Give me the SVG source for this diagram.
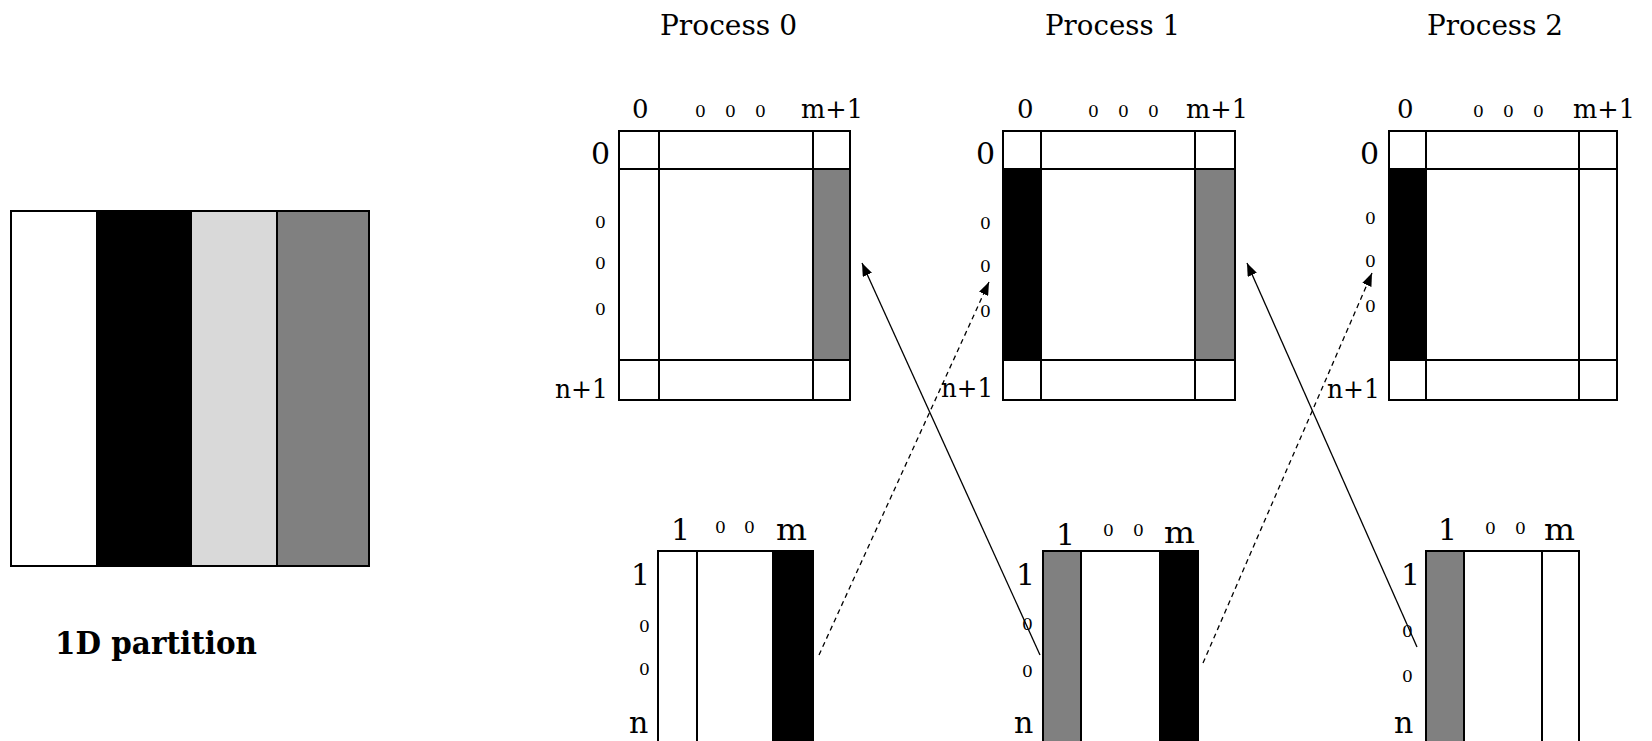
<svg xmlns="http://www.w3.org/2000/svg" width="1652" height="741" viewBox="0 0 1652 741">
<style>
.bx{fill:none;stroke:#000;stroke-width:2}
.ln{stroke:#000;stroke-width:2}
.t{font-family:"DejaVu Serif","Liberation Serif",serif;fill:#000}
.ttl{font-size:27px}
.lb{font-size:26px}
.lr{font-size:30px}
.sm{font-size:17px}
.bl{font-size:30px}
.con{fill:none;stroke:#000;stroke-width:1.3}
.dash{stroke-dasharray:5 4}
</style>
<defs>
<marker id="ah" markerUnits="userSpaceOnUse" markerWidth="14" markerHeight="10" refX="13" refY="5" orient="auto">
<path d="M0,0 L13,5 L0,10 Z" fill="#000"/>
</marker>
</defs>
<rect width="1652" height="741" fill="#fff"/>

<g id="partition">
<rect x="11" y="211" width="86" height="355" fill="#fff"/>
<rect x="97" y="211" width="94" height="355" fill="#000"/>
<rect x="191" y="211" width="86" height="355" fill="#d9d9d9"/>
<rect x="277" y="211" width="92" height="355" fill="#808080"/>
<line class="ln" x1="97" y1="211" x2="97" y2="566"/>
<line class="ln" x1="191" y1="211" x2="191" y2="566"/>
<line class="ln" x1="277" y1="211" x2="277" y2="566"/>
<rect class="bx" x="11" y="211" width="358" height="355"/>
<text class="t" x="55" y="654" font-size="32" font-weight="bold" textLength="202" lengthAdjust="spacingAndGlyphs">1D partition</text>
</g>

<g id="process0">
<text class="t ttl" x="660" y="35" textLength="137" lengthAdjust="spacingAndGlyphs">Process 0</text>
<rect x="813" y="169" width="37" height="191" fill="#808080"/>
<rect class="bx" x="619" y="131" width="231" height="269"/>
<line class="ln" x1="659" y1="131" x2="659" y2="400"/>
<line class="ln" x1="813" y1="131" x2="813" y2="400"/>
<line class="ln" x1="619" y1="169" x2="850" y2="169"/>
<line class="ln" x1="619" y1="360" x2="850" y2="360"/>
<text class="t lb" x="632" y="118">0</text>
<text class="t sm" x="695" y="117">0</text>
<text class="t sm" x="725" y="117">0</text>
<text class="t sm" x="755" y="117">0</text>
<text class="t lb" x="801" y="118" textLength="62" lengthAdjust="spacingAndGlyphs">m+1</text>
<text class="t lr" x="591" y="164">0</text>
<text class="t sm" x="595" y="228">0</text>
<text class="t sm" x="595" y="269">0</text>
<text class="t sm" x="595" y="315">0</text>
<text class="t lb" x="555" y="398" textLength="53" lengthAdjust="spacingAndGlyphs">n+1</text>
</g>

<g id="process1">
<text class="t ttl" x="1045" y="35" textLength="135" lengthAdjust="spacingAndGlyphs">Process 1</text>
<rect x="1003" y="169" width="38" height="191" fill="#000"/>
<rect x="1195" y="169" width="40" height="191" fill="#808080"/>
<rect class="bx" x="1003" y="131" width="232" height="269"/>
<line class="ln" x1="1041" y1="131" x2="1041" y2="400"/>
<line class="ln" x1="1195" y1="131" x2="1195" y2="400"/>
<line class="ln" x1="1003" y1="169" x2="1235" y2="169"/>
<line class="ln" x1="1003" y1="360" x2="1235" y2="360"/>
<text class="t lb" x="1017" y="118">0</text>
<text class="t sm" x="1088" y="117">0</text>
<text class="t sm" x="1118" y="117">0</text>
<text class="t sm" x="1148" y="117">0</text>
<text class="t lb" x="1186" y="118" textLength="62" lengthAdjust="spacingAndGlyphs">m+1</text>
<text class="t lr" x="976" y="164">0</text>
<text class="t sm" x="980" y="229">0</text>
<text class="t sm" x="980" y="272">0</text>
<text class="t sm" x="980" y="317">0</text>
<text class="t lb" x="941" y="397" textLength="52" lengthAdjust="spacingAndGlyphs">n+1</text>
</g>

<g id="process2">
<text class="t ttl" x="1427" y="35" textLength="136" lengthAdjust="spacingAndGlyphs">Process 2</text>
<rect x="1389" y="169" width="37" height="191" fill="#000"/>
<rect class="bx" x="1389" y="131" width="228" height="269"/>
<line class="ln" x1="1426" y1="131" x2="1426" y2="400"/>
<line class="ln" x1="1579" y1="131" x2="1579" y2="400"/>
<line class="ln" x1="1389" y1="169" x2="1617" y2="169"/>
<line class="ln" x1="1389" y1="360" x2="1617" y2="360"/>
<text class="t lb" x="1397" y="118">0</text>
<text class="t sm" x="1473" y="117">0</text>
<text class="t sm" x="1503" y="117">0</text>
<text class="t sm" x="1533" y="117">0</text>
<text class="t lb" x="1573" y="118" textLength="62" lengthAdjust="spacingAndGlyphs">m+1</text>
<text class="t lr" x="1360" y="164">0</text>
<text class="t sm" x="1365" y="224">0</text>
<text class="t sm" x="1365" y="267">0</text>
<text class="t sm" x="1365" y="312">0</text>
<text class="t lb" x="1327" y="398" textLength="53" lengthAdjust="spacingAndGlyphs">n+1</text>
</g>

<g id="local0">
<rect x="772" y="551" width="41" height="200" fill="#000"/>
<rect class="bx" x="658" y="551" width="155" height="200"/>
<line class="ln" x1="697" y1="551" x2="697" y2="751"/>
<text class="t bl" x="671" y="540">1</text>
<text class="t sm" x="715" y="533">0</text>
<text class="t sm" x="744" y="533">0</text>
<text class="t bl" x="776" y="540" textLength="31" lengthAdjust="spacingAndGlyphs">m</text>
<text class="t bl" x="631" y="585">1</text>
<text class="t sm" x="639" y="632">0</text>
<text class="t sm" x="639" y="675">0</text>
<text class="t bl" x="629" y="733">n</text>
</g>

<g id="local1">
<rect x="1043" y="551" width="38" height="200" fill="#808080"/>
<rect x="1159" y="551" width="39" height="200" fill="#000"/>
<rect class="bx" x="1043" y="551" width="155" height="200"/>
<line class="ln" x1="1081" y1="551" x2="1081" y2="751"/>
<text class="t bl" x="1056" y="545">1</text>
<text class="t sm" x="1103" y="536">0</text>
<text class="t sm" x="1133" y="536">0</text>
<text class="t bl" x="1164" y="543" textLength="31" lengthAdjust="spacingAndGlyphs">m</text>
<text class="t bl" x="1016" y="585">1</text>
<text class="t sm" x="1022" y="630">0</text>
<text class="t sm" x="1022" y="677">0</text>
<text class="t bl" x="1014" y="733">n</text>
</g>

<g id="local2">
<rect x="1426" y="551" width="38" height="200" fill="#808080"/>
<rect class="bx" x="1426" y="551" width="153" height="200"/>
<line class="ln" x1="1464" y1="551" x2="1464" y2="751"/>
<line class="ln" x1="1542" y1="551" x2="1542" y2="751"/>
<text class="t bl" x="1438" y="540">1</text>
<text class="t sm" x="1485" y="534">0</text>
<text class="t sm" x="1515" y="534">0</text>
<text class="t bl" x="1544" y="540" textLength="31" lengthAdjust="spacingAndGlyphs">m</text>
<text class="t bl" x="1401" y="585">1</text>
<text class="t sm" x="1402" y="637">0</text>
<text class="t sm" x="1402" y="682">0</text>
<text class="t bl" x="1394" y="733">n</text>
</g>

<g id="connectors">
<line class="con" x1="1040" y1="655" x2="862" y2="263" marker-end="url(#ah)"/>
<line class="con dash" x1="819" y1="655" x2="989" y2="282" marker-end="url(#ah)"/>
<line class="con" x1="1417" y1="647" x2="1247" y2="263" marker-end="url(#ah)"/>
<line class="con dash" x1="1203" y1="663" x2="1372" y2="273" marker-end="url(#ah)"/>
</g>
</svg>
